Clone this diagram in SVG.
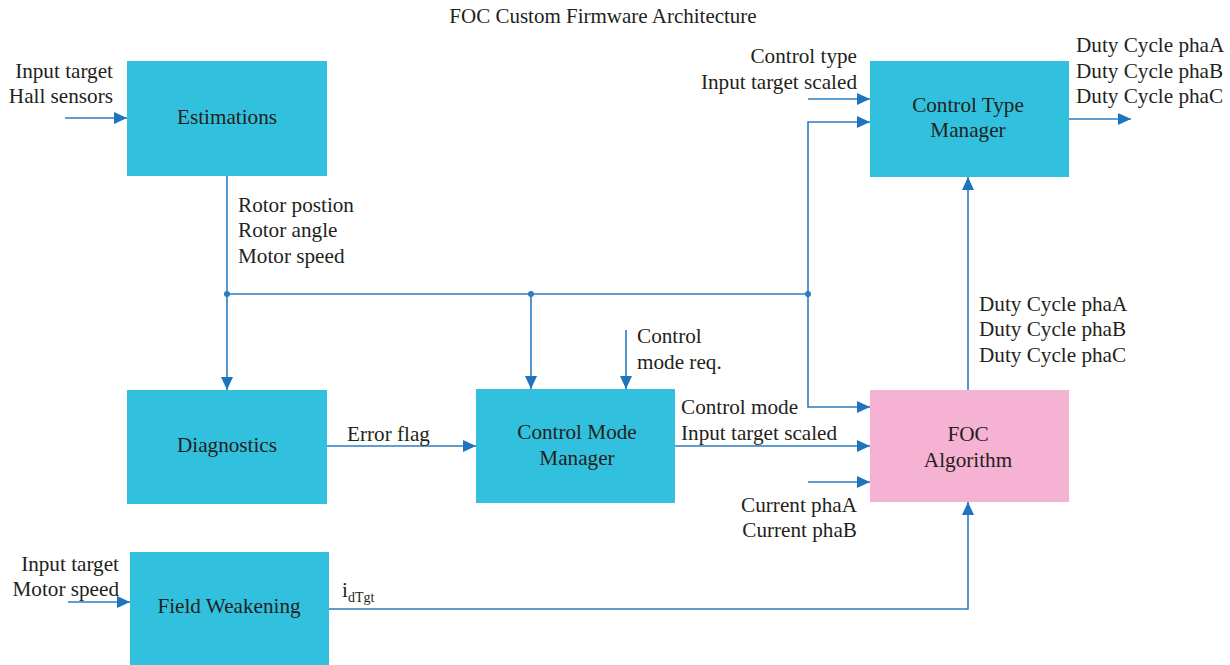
<svg xmlns="http://www.w3.org/2000/svg" width="1230" height="665" viewBox="0 0 1230 665">
  <style>
    .box { fill: #31c1de; }
    .pink { fill: #f6b2d3; }
    .t { font-family: "Liberation Serif", "DejaVu Serif", serif; font-size: 21.2px; fill: #231f20; }
    .c { text-anchor: middle; }
    .e { text-anchor: end; }
    .title { font-family: "Liberation Serif", "DejaVu Serif", serif; font-size: 21px; fill: #231f20; text-anchor: middle; }
    .w { fill: none; stroke: #2b7cc3; stroke-width: 1.6; }
    .dot { fill: #2b7cc3; }
  </style>
  <defs>
    <marker id="arr" markerUnits="userSpaceOnUse" markerWidth="14" markerHeight="12" refX="13" refY="6" orient="auto">
      <path d="M0,0 L13,6 L0,12 Z" fill="#1f74bd"/>
    </marker>
  </defs>

  <rect width="1230" height="665" fill="#ffffff"/>
  <text class="title" x="603" y="23">FOC Custom Firmware Architecture</text>

  <!-- connectors -->
  <g id="connectors">
    <path class="w" d="M65,118 H127" marker-end="url(#arr)"/>
    <path class="w" d="M227,176 V390" marker-end="url(#arr)"/>
    <path class="w" d="M227,294 H808"/>
    <path class="w" d="M531,294 V389" marker-end="url(#arr)"/>
    <path class="w" d="M808,294 V122 H870" marker-end="url(#arr)"/>
    <path class="w" d="M808,294 V407 H870" marker-end="url(#arr)"/>
    <path class="w" d="M808,99 H870" marker-end="url(#arr)"/>
    <path class="w" d="M1069,119 H1131" marker-end="url(#arr)"/>
    <path class="w" d="M968,390 V177" marker-end="url(#arr)"/>
    <path class="w" d="M626,330 V389" marker-end="url(#arr)"/>
    <path class="w" d="M327,446 H476" marker-end="url(#arr)"/>
    <path class="w" d="M675,446 H870" marker-end="url(#arr)"/>
    <path class="w" d="M808,482 H870" marker-end="url(#arr)"/>
    <path class="w" d="M68,602 H130" marker-end="url(#arr)"/>
    <path class="w" d="M329,609 H968 V502" marker-end="url(#arr)"/>
    <circle class="dot" cx="227" cy="294" r="3"/>
    <circle class="dot" cx="531" cy="294" r="3"/>
    <circle class="dot" cx="808" cy="294" r="3"/>

    <text class="t e" x="113" y="78">Input target</text>
    <text class="t e" x="113" y="103">Hall sensors</text>
    <text class="t" x="238" y="212">Rotor postion</text>
    <text class="t" x="238" y="237">Rotor angle</text>
    <text class="t" x="238" y="263">Motor speed</text>
    <text class="t e" x="857" y="63">Control type</text>
    <text class="t e" x="857" y="89">Input target scaled</text>
    <text class="t" x="1076" y="52">Duty Cycle phaA</text>
    <text class="t" x="1076" y="78">Duty Cycle phaB</text>
    <text class="t" x="1076" y="103">Duty Cycle phaC</text>
    <text class="t" x="979" y="311">Duty Cycle phaA</text>
    <text class="t" x="979" y="336">Duty Cycle phaB</text>
    <text class="t" x="979" y="362">Duty Cycle phaC</text>
    <text class="t" x="637" y="343">Control</text>
    <text class="t" x="637" y="369">mode req.</text>
    <text class="t" x="347" y="441">Error flag</text>
    <text class="t" x="681" y="414">Control mode</text>
    <text class="t" x="681" y="440">Input target scaled</text>
    <text class="t e" x="857" y="512">Current phaA</text>
    <text class="t e" x="857" y="537">Current phaB</text>
    <text class="t e" x="119" y="571">Input target</text>
    <text class="t e" x="119" y="596">Motor speed</text>
    <text class="t" x="342" y="597">i<tspan font-size="14" dy="5">dTgt</tspan></text>
  </g>

  <!-- nodes -->
  <g id="estimations">
    <rect class="box" x="127" y="61" width="200" height="115"/>
    <text class="t c" x="227" y="124">Estimations</text>
  </g>
  <g id="control-type-manager">
    <rect class="box" x="870" y="61" width="199" height="116"/>
    <text class="t c" x="968" y="112">Control Type</text>
    <text class="t c" x="968" y="137">Manager</text>
  </g>
  <g id="diagnostics">
    <rect class="box" x="127" y="390" width="200" height="114"/>
    <text class="t c" x="227" y="452">Diagnostics</text>
  </g>
  <g id="control-mode-manager">
    <rect class="box" x="476" y="389" width="199" height="114"/>
    <text class="t c" x="577" y="439">Control Mode</text>
    <text class="t c" x="577" y="465">Manager</text>
  </g>
  <g id="foc-algorithm">
    <rect class="pink" x="870" y="390" width="199" height="112"/>
    <text class="t c" x="968" y="441">FOC</text>
    <text class="t c" x="968" y="467">Algorithm</text>
  </g>
  <g id="field-weakening">
    <rect class="box" x="130" y="552" width="199" height="113"/>
    <text class="t c" x="229" y="613">Field Weakening</text>
  </g>
</svg>
